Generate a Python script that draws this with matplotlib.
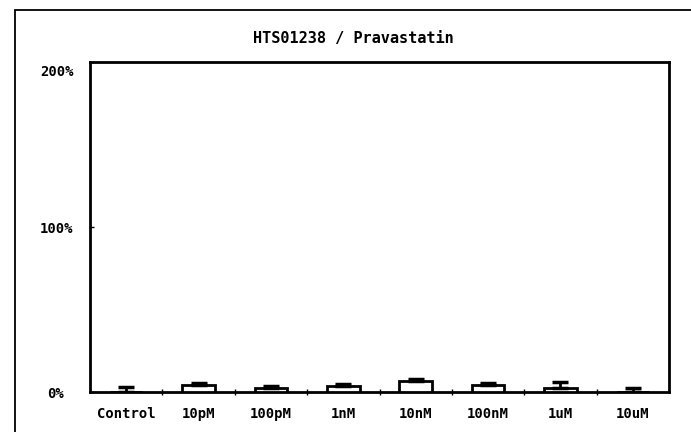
import matplotlib
matplotlib.use("Agg")
import matplotlib.pyplot as plt
from matplotlib.patches import Rectangle
import matplotlib.transforms as mtransforms
import numpy as np

categories = ["Control", "10pM", "100pM", "1nM", "10nM", "100nM", "1uM", "10uM"]
values = [0.3, 4.2, 2.6, 3.5, 6.7, 4.0, 2.5, 0.3]
errors = [2.7, 1.2, 0.8, 1.2, 1.4, 1.3, 3.5, 2.3]
ytick_vals = [0, 100, 200]
ytick_labels = ["0%", "100%", "200%"]
title = "HTS01238 / Pravastatin"

plt.rcParams["font.family"] = ["DejaVu Sans Mono"]

fig = plt.figure(figsize=(6.91, 4.32), dpi=100)
W, H = 691, 432

# outer frame
fig.patches.append(Rectangle((15 / W, -0.1), 1.2, (H - 10) / H + 0.1,
                             transform=fig.transFigure, fill=False,
                             edgecolor="black", linewidth=1.3))

ax = fig.add_axes([90 / W, (H - 392) / H, (669 - 90) / W, (392 - 62) / H])
x = np.arange(len(categories))
ax.bar(x, values, width=0.45, facecolor="white", edgecolor="black", linewidth=2,
       yerr=[np.zeros(len(errors)), errors], capsize=6,
       error_kw=dict(elinewidth=2, capthick=2.5, ecolor="black"), zorder=3)

ax.set_xlim(-0.5, len(categories) - 0.5)
ax.set_ylim(0, 200)
ax.set_yticks(ytick_vals)
ax.set_yticklabels(ytick_labels)
ax.set_xticks(x)
ax.set_xticklabels(categories)
ax.set_xticks(np.arange(0.5, len(categories) - 0.5, 1), minor=True)
ax.tick_params(axis="x", which="major", length=0, pad=11, labelsize=10)
ax.tick_params(axis="x", which="minor", length=4, width=1, direction="inout")
ax.tick_params(axis="y", which="major", length=3, width=1, direction="in", pad=12, labelsize=10)
for lab in ax.get_xticklabels() + ax.get_yticklabels():
    lab.set_fontweight("bold")
ylabs = ax.get_yticklabels()
# top label sits slightly lower, 0% label slightly further left, as in reference
ylabs[2].set_transform(ylabs[2].get_transform() + mtransforms.ScaledTranslation(0, -8 / 100, fig.dpi_scale_trans))
ylabs[0].set_transform(ylabs[0].get_transform() + mtransforms.ScaledTranslation(-9 / 100, 0, fig.dpi_scale_trans))

for s in ax.spines.values():
    s.set_linewidth(2)

fig.text(353 / W, 1 - 39 / H, title, ha="center", va="center", fontsize=11, fontweight="bold")

fig.savefig("out.png", dpi=100)
